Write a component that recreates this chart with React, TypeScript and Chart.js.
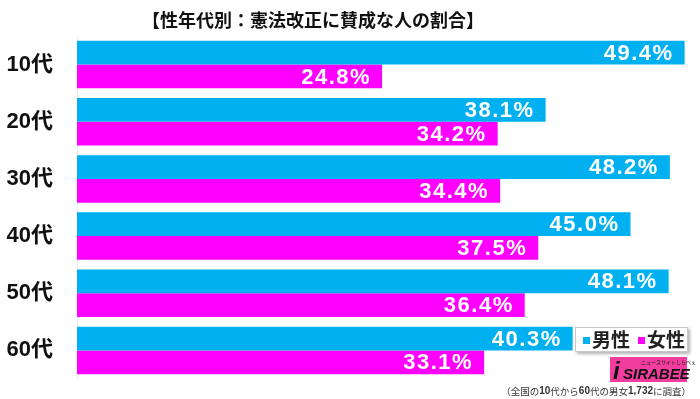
import React, { useEffect, useRef } from "react";
import { Chart, registerables } from "chart.js";

Chart.register(...registerables);

const categories = ["10代", "20代", "30代", "40代", "50代", "60代"];
const maleValues = [49.4, 38.1, 48.2, 45.0, 48.1, 40.3];
const femaleValues = [24.8, 34.2, 34.4, 37.5, 36.4, 33.1];
const seriesNames = ["男性", "女性"];
const titleText = "【性年代別：憲法改正に賛成な人の割合】";
const noteRuns: [string, boolean][] = [
  ["（全国の", false],
  ["10", true],
  ["代から", false],
  ["60", true],
  ["代の男女", false],
  ["1,732", true],
  ["に調査）", false],
];

const BLUE = "#00b0f0";
const PINK = "#ff00ff";
const CJK = '"Noto Sans CJK JP"';
const LAT = '"Liberation Sans", Arial';

const decorPlugin = {
  id: "decor",
  afterDatasetsDraw(chart: any) {
    const ctx = chart.ctx as CanvasRenderingContext2D;
    ctx.save();
    ctx.fillStyle = "#ffffff";
    ctx.font = `bold 22px ${LAT}`;
    (ctx as any).letterSpacing = "1.5px";
    ctx.textAlign = "right";
    ctx.textBaseline = "middle";
    chart.data.datasets.forEach((ds: any, di: number) => {
      const meta = chart.getDatasetMeta(di);
      meta.data.forEach((bar: any, i: number) => {
        const v = ds.data[i];
        ctx.fillText(v.toFixed(1) + "%", bar.x - 11, bar.y + 1);
      });
    });
    ctx.restore();
  },
  afterDraw(chart: any) {
    const ctx = chart.ctx as CanvasRenderingContext2D;
    ctx.save();
    ctx.fillStyle = "#111";
    ctx.font = `bold 18px ${CJK}`;
    ctx.textAlign = "center";
    ctx.textBaseline = "middle";
    ctx.fillText(titleText, 313, 20);

    ctx.save();
    ctx.shadowColor = "rgba(0,0,0,0.3)";
    ctx.shadowOffsetX = 2;
    ctx.shadowOffsetY = 2;
    ctx.shadowBlur = 3;
    ctx.fillStyle = "#ffffff";
    ctx.fillRect(575, 327, 113, 25);
    ctx.restore();
    ctx.strokeStyle = "#c8c8c8";
    ctx.lineWidth = 1;
    ctx.strokeRect(575.5, 327.5, 112, 24);
    const colors = [BLUE, PINK];
    const xs = [583, 638];
    ctx.font = `bold 19px ${CJK}`;
    ctx.textAlign = "left";
    ctx.textBaseline = "middle";
    seriesNames.forEach((n, i) => {
      ctx.fillStyle = colors[i];
      ctx.fillRect(xs[i], 337, 7, 7);
      ctx.fillStyle = "#222";
      ctx.fillText(n, xs[i] + 9, 340);
    });

    ctx.fillStyle = "#f23d9e";
    ctx.fillRect(610, 357, 77, 25);
    ctx.fillStyle = "#111";
    ctx.font = `italic bold 24px ${LAT}`;
    ctx.textBaseline = "alphabetic";
    ctx.fillText("i", 613, 379);
    ctx.font = `italic bold 15px ${LAT}`;
    ctx.fillText("SIRABEE", 623, 379);
    ctx.font = `5px ${CJK}`;
    ctx.fillText("ニュースサイトしらべぇ", 641, 364);

    ctx.fillStyle = "#333";
    ctx.textBaseline = "middle";
    ctx.textAlign = "left";
    const fontFor = (b: boolean) => (b ? `bold 10px ${LAT}` : `9.5px ${CJK}`);
    let total = 0;
    noteRuns.forEach(([t, b]) => {
      ctx.font = fontFor(b);
      total += ctx.measureText(t).width;
    });
    let x = 691 - total;
    noteRuns.forEach(([t, b]) => {
      ctx.font = fontFor(b);
      ctx.fillText(t, x, 391);
      x += ctx.measureText(t).width;
    });
    ctx.restore();
  },
};

export default function App() {
  const ref = useRef<HTMLCanvasElement | null>(null);
  useEffect(() => {
    if (!ref.current) return;
    const chart = new Chart(ref.current, {
      type: "bar",
      data: {
        labels: categories,
        datasets: [
          { label: seriesNames[0], data: maleValues, backgroundColor: BLUE },
          { label: seriesNames[1], data: femaleValues, backgroundColor: PINK },
        ],
      },
      options: {
        indexAxis: "y",
        responsive: false,
        animation: false,
        layout: { padding: { top: 36, bottom: 20, right: 8, left: 0 } },
        datasets: { bar: { barPercentage: 1, categoryPercentage: 0.83 } } as any,
        plugins: { legend: { display: false }, tooltip: { enabled: false }, title: { display: false } },
        scales: {
          x: { display: false, min: 0, max: 50 },
          y: {
            grid: { display: false },
            border: { display: true, color: "#ececec" },
            afterFit: (s: any) => {
              s.width = 77;
              s.paddingTop = 0;
              s.paddingBottom = 0;
            },
            ticks: {
              padding: 16,
              color: "#111",
              font: { size: 22, weight: "bold", family: `${LAT}, ${CJK}` },
            },
          },
        },
      },
      plugins: [decorPlugin],
    });
    return () => chart.destroy();
  }, []);
  return (
    <div style={{ position: "fixed", left: 0, top: 0, width: 700, height: 399, background: "#fff" }}>
      <canvas ref={ref} width={700} height={399} />
    </div>
  );
}
